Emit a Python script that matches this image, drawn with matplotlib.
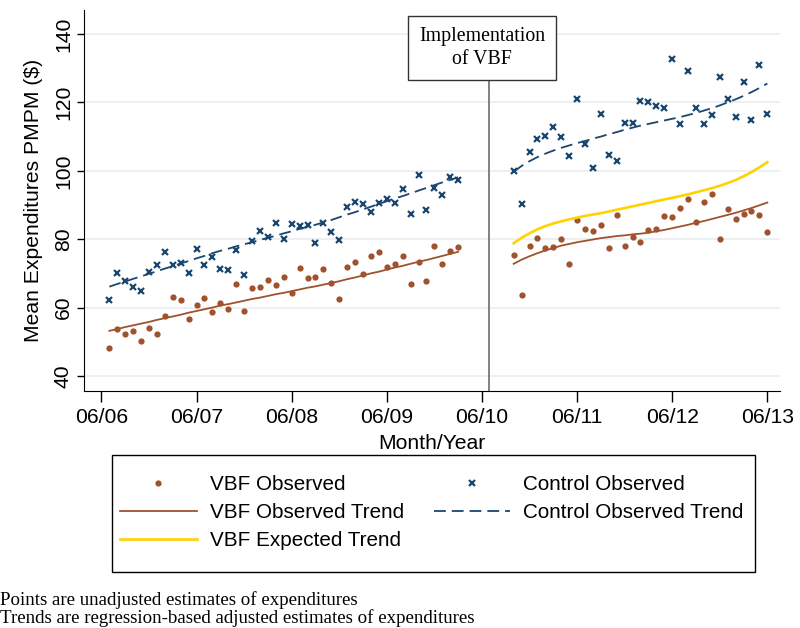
import matplotlib.pyplot as plt
import numpy as np
from matplotlib.patches import Rectangle

plt.rcParams['font.family'] = ['Liberation Sans', 'DejaVu Sans']
plt.rcParams['lines.scale_dashes'] = False

# months counted from June 2006
pre_months = np.arange(1, 46)
post_months = np.arange(52, 85)

vbf_pre = [48.1, 53.6, 52.3, 53.0, 50.3, 54.0, 52.2, 57.5, 63.2, 62.2, 56.7, 60.8, 62.9, 58.6, 61.4,
           59.6, 66.8, 59.1, 65.6, 66.1, 68.1, 66.6, 68.9, 64.4, 71.5, 68.6, 69.0, 71.2, 67.1,
           62.6, 71.9, 73.2, 69.8, 75.0, 76.3, 71.8, 72.7, 75.0, 66.9, 73.3, 67.9, 78.1, 72.7, 76.6, 77.6]
ctrl_pre = [62.3, 70.1, 67.8, 66.1, 64.9, 70.5, 72.5, 76.2, 72.5, 73.0, 70.2, 77.1, 72.4, 74.7, 71.2,
            71.0, 76.9, 69.5, 79.4, 82.4, 80.6, 84.7, 80.1, 84.3, 83.8, 84.2, 78.9, 84.6, 82.2,
            79.7, 89.5, 90.9, 90.4, 87.9, 90.7, 91.7, 90.5, 94.7, 87.3, 98.9, 88.6, 94.9, 92.9, 98.1, 97.3]
vbf_post = [75.3, 63.6, 78.1, 80.4, 77.4, 77.8, 80.1, 72.8, 85.6, 83.0, 82.3, 84.2, 77.4, 87.1, 77.9,
            80.6, 79.3, 82.6, 83.1, 86.9, 86.6, 89.2, 91.6, 85.0, 91.0, 93.3, 80.0, 88.9, 85.9, 87.3,
            88.2, 87.1, 82.1]
ctrl_post = [99.9, 90.3, 105.6, 109.2, 110.1, 112.8, 109.8, 104.3, 121.1, 107.7, 100.9, 116.5, 104.5,
             102.9, 113.9, 114.0, 120.4, 120.0, 118.9, 118.4, 132.8, 113.7, 129.2, 118.4, 113.8, 116.2,
             127.3, 121.0, 115.7, 126.0, 114.9, 130.9, 116.7]

vbf_trend_pre = [53.2, 53.7, 54.3, 54.8, 55.3, 55.8, 56.4, 56.9, 57.4, 57.9, 58.5, 59.0, 59.5, 60.0, 60.6,
                 61.0, 61.5, 62.0, 62.5, 62.9, 63.4, 63.9, 64.3, 64.8, 65.3, 65.8, 66.2, 66.7, 67.2, 67.7,
                 68.3, 68.8, 69.4, 70.0, 70.5, 71.1, 71.7, 72.2, 72.8, 73.4, 73.9, 74.5, 75.1, 75.7, 76.3]
ctrl_trend_pre = [66.1, 66.9, 67.6, 68.4, 69.1, 69.9, 70.6, 71.4, 72.1, 72.9, 73.6, 74.4, 75.1, 75.9, 76.6,
                  77.2, 77.9, 78.5, 79.1, 79.8, 80.4, 81.0, 81.7, 82.3, 83.0, 83.6, 84.2, 84.9, 85.6, 86.4,
                  87.2, 87.9, 88.7, 89.5, 90.3, 91.1, 91.9, 92.6, 93.4, 94.2, 95.0, 95.8, 96.6, 97.3, 98.1]
vbf_trend_post = [72.8, 74.0, 75.0, 75.9, 76.7, 77.4, 78.1, 78.6, 79.1, 79.5, 79.9, 80.3, 80.6, 80.9, 81.1,
                  81.4, 81.6, 81.9, 82.3, 82.7, 83.2, 83.7, 84.2, 84.8, 85.3, 85.9, 86.5, 87.1, 87.7, 88.4,
                  89.1, 89.9, 90.7]
vbf_expected_post = [78.8, 80.4, 81.7, 82.9, 83.8, 84.6, 85.2, 85.8, 86.3, 86.8, 87.2, 87.6, 88.1, 88.6,
                     89.1, 89.6, 90.1, 90.6, 91.1, 91.6, 92.1, 92.6, 93.1, 93.7, 94.3, 94.9, 95.6, 96.4,
                     97.3, 98.4, 99.6, 101.0, 102.5]
ctrl_trend_post = [99.7, 101.4, 102.8, 104.0, 105.0, 105.9, 106.7, 107.4, 108.1, 108.7, 109.4, 110.0,
                   110.7, 111.3, 112.0, 112.6, 113.2, 113.7, 114.2, 114.7, 115.2, 115.7, 116.3, 116.9,
                   117.6, 118.3, 119.1, 120.0, 120.9, 121.9, 123.0, 124.2, 125.5]

tick_months = [0, 12, 24, 36, 48, 60, 72, 84]
tick_labels = ['06/06', '06/07', '06/08', '06/09', '06/10', '06/11', '06/12', '06/13']
implementation_month = 48.9

brown = '#a0522d'
navy = '#1a476f'
gold = '#ffd200'
fs = 15.2
serif = ['Liberation Serif', 'DejaVu Serif']

fig = plt.figure(figsize=(8, 6.28), dpi=100)
ax = fig.add_axes([0.105, 0.3774, 0.87, 0.6066])

ax.plot(pre_months, vbf_pre, 'o', color=brown, ms=4.5, mec='none', label='VBF Observed')
ax.plot(post_months, vbf_post, 'o', color=brown, ms=4.5, mec='none')
ax.plot(pre_months, ctrl_pre, 'x', color=navy, ms=5, mew=1.6, label='Control Observed')
ax.plot(post_months, ctrl_post, 'x', color=navy, ms=5, mew=1.6)

ax.plot(pre_months, vbf_trend_pre, '-', color=brown, lw=1.3, label='VBF Observed Trend')
ax.plot(post_months, vbf_trend_post, '-', color=brown, lw=1.3)
ax.plot(post_months, vbf_expected_post, '-', color=gold, lw=1.9, label='VBF Expected Trend')
ax.plot(pre_months, ctrl_trend_pre, '--', color=navy, lw=1.3, dashes=(8.5, 4.3),
        label='Control Observed Trend')
ax.plot(post_months, ctrl_trend_post, '--', color=navy, lw=1.3, dashes=(8.5, 4.3))

ax.axvline(implementation_month, ymax=(127.1 - 35.6) / (147 - 35.6), color='#777777', lw=1.3)
ax.text(48, 135.9, 'Implementation\nof VBF', ha='center', va='center', fontsize=14.3,
        family=serif, linespacing=1.3,
        bbox=dict(boxstyle='square,pad=0.55', fc='white', ec='#333333', lw=1))

ax.set_xlim(-2.2, 85.6)
ax.set_ylim(35.6, 147)
ax.set_yticks([40, 60, 80, 100, 120, 140])
ax.set_xticks(tick_months)
ax.set_xticklabels(tick_labels)
ax.tick_params(axis='both', labelsize=fs, direction='out', width=1)
ax.tick_params(axis='x', length=8, pad=4)
ax.tick_params(axis='y', length=5, pad=3)
for lab in ax.get_yticklabels():
    lab.set_rotation(90)
    lab.set_va('center')
ax.grid(axis='y', color='#eaeef0', lw=1.2)
ax.set_axisbelow(True)
for s in ['top', 'right']:
    ax.spines[s].set_visible(False)
ax.set_xlabel('Month/Year', fontsize=fs, labelpad=5)
ax.set_ylabel('Mean Expenditures PMPM ($)', fontsize=fs, labelpad=8)

# legend frame drawn by hand, entries placed inside it
fig.patches.append(Rectangle((112 / 800, 1 - 572 / 628), 643 / 800, 117 / 628,
                             transform=fig.transFigure, fc='white', ec='black', lw=1))
h, l = ax.get_legend_handles_labels()
order = [0, 2, 3, 1, 4]
leg = fig.legend([h[i] for i in order], [l[i] for i in order], ncol=2,
                 bbox_to_anchor=(120 / 800, 1 - 475 / 628), loc='upper left',
                 fontsize=14.9, frameon=False, borderpad=0, borderaxespad=0,
                 handlelength=3.7, handletextpad=0.63, columnspacing=1.45,
                 labelspacing=0.43)

fig.text(0.0, 1 - 600 / 628, 'Points are unadjusted estimates of expenditures',
         family=serif, fontsize=13.6, va='center')
fig.text(0.0, 1 - 618 / 628, 'Trends are regression-based adjusted estimates of expenditures',
         family=serif, fontsize=13.6, va='center')

fig.savefig('out.png', dpi=100)
